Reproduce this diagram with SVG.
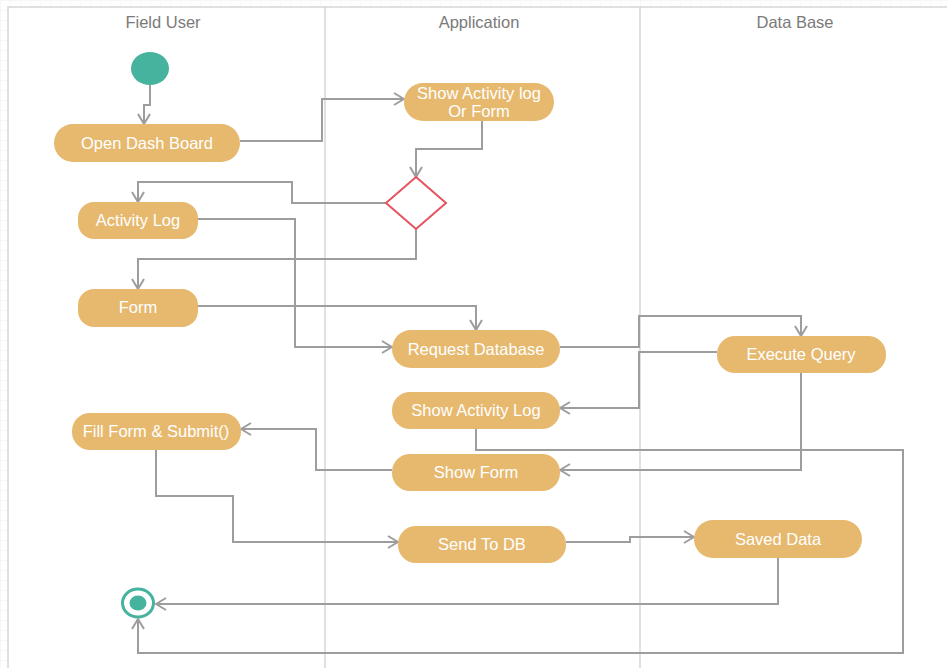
<svg xmlns="http://www.w3.org/2000/svg" width="947" height="668" viewBox="0 0 947 668">
  <style>
    .lane-title { font-family: "Liberation Sans", Arial, sans-serif; font-size: 16.5px; fill: #7a7a7a; text-anchor: middle; }
    .act rect { fill: #e6b96f; }
    .act text { font-family: "Liberation Sans", Arial, sans-serif; font-size: 16.5px; fill: #ffffff; text-anchor: middle; dominant-baseline: central; }
    .flow { fill: none; stroke: #9d9d9d; stroke-width: 2; marker-end: url(#arrow); }
    .lane { fill: none; stroke: #d6d6d6; stroke-width: 1.5; }
  </style>
  <defs>
    <pattern id="grid" width="10" height="10" patternUnits="userSpaceOnUse">
      <path d="M10 0 L0 0 L0 10" fill="none" stroke="#f0f0f0" stroke-width="1"/>
    </pattern>
    <marker id="arrow" viewBox="0 0 12 14" refX="11" refY="7" markerWidth="12" markerHeight="14" markerUnits="userSpaceOnUse" orient="auto">
      <path d="M1 1 L11 7 L1 13" fill="none" stroke="#9d9d9d" stroke-width="2"/>
    </marker>
  </defs>

  <!-- canvas -->
  <rect width="947" height="668" fill="#ffffff"/>
  <rect width="947" height="668" fill="url(#grid)"/>
  <rect x="8" y="7" width="945" height="670" fill="#ffffff"/>

  <!-- swimlanes -->
  <g id="lanes">
    <path class="lane" d="M8 670 L8 7 L947 7"/>
    <line class="lane" x1="325" y1="7" x2="325" y2="668"/>
    <line class="lane" x1="640" y1="7" x2="640" y2="668"/>
    <text class="lane-title" x="163" y="28">Field User</text>
    <text class="lane-title" x="479" y="28">Application</text>
    <text class="lane-title" x="795" y="28">Data Base</text>
  </g>

  <!-- connectors -->
  <g id="connectors">
    <path class="flow" d="M150 85 L150 105 L144 105 L144 124"/>
    <path class="flow" d="M240 141 L322 141 L322 99 L404 99"/>
    <path class="flow" d="M482 121 L482 149 L416 149 L416 177"/>
    <path class="flow" d="M386 203 L292 203 L292 182 L138 182 L138 202"/>
    <path class="flow" d="M416 229 L416 259 L138 259 L138 289"/>
    <path class="flow" d="M198 219 L295 219 L295 347 L392 347"/>
    <path class="flow" d="M198 306 L476 306 L476 330"/>
    <path class="flow" d="M560 347 L639 347 L639 316 L801 316 L801 336"/>
    <path class="flow" d="M717 352 L639 352 L639 408 L560 408"/>
    <path class="flow" d="M801 373 L801 470 L560 470"/>
    <path class="flow" d="M392 470 L316 470 L316 429 L241 429"/>
    <path class="flow" d="M156 450 L156 496 L233 496 L233 542 L398 542"/>
    <path class="flow" d="M566 542 L630 542 L630 537 L694 537"/>
    <path class="flow" d="M778 558 L778 604 L156 604"/>
    <path class="flow" d="M476 429 L476 450 L903 450 L903 653 L138 653 L138 619"/>
  </g>

  <!-- start -->
  <g id="start">
    <ellipse cx="150" cy="68.5" rx="19" ry="16.5" fill="#45b39d"/>
  </g>

  <g id="open-dash-board" class="act">
    <rect x="54" y="124" width="186" height="38" rx="19"/>
    <text x="147" y="143">Open Dash Board</text>
  </g>

  <g id="show-activity-or-form" class="act">
    <rect x="404" y="83" width="150" height="38" rx="19"/>
    <text x="479" y="93">Show Activity log</text>
    <text x="479" y="111">Or Form</text>
  </g>

  <g id="decision">
    <polygon points="416,177 446,203 416,229 386,203" fill="#ffffff" stroke="#e5535f" stroke-width="2"/>
  </g>

  <g id="activity-log" class="act">
    <rect x="78" y="202" width="120" height="37" rx="16"/>
    <text x="138" y="220">Activity Log</text>
  </g>

  <g id="form" class="act">
    <rect x="78" y="289" width="120" height="38" rx="16"/>
    <text x="138" y="307">Form</text>
  </g>

  <g id="request-database" class="act">
    <rect x="392" y="330" width="168" height="38" rx="19"/>
    <text x="476" y="349">Request Database</text>
  </g>

  <g id="execute-query" class="act">
    <rect x="717" y="336" width="169" height="37" rx="18"/>
    <text x="801" y="354">Execute Query</text>
  </g>

  <g id="show-activity-log" class="act">
    <rect x="392" y="392" width="168" height="37" rx="18"/>
    <text x="476" y="410">Show Activity Log</text>
  </g>

  <g id="fill-form-submit" class="act">
    <rect x="72" y="413" width="169" height="37" rx="18"/>
    <text x="156" y="431">Fill Form &amp; Submit()</text>
  </g>

  <g id="show-form" class="act">
    <rect x="392" y="454" width="168" height="37" rx="18"/>
    <text x="476" y="472">Show Form</text>
  </g>

  <g id="send-to-db" class="act">
    <rect x="398" y="526" width="168" height="37" rx="18"/>
    <text x="482" y="544">Send To DB</text>
  </g>

  <g id="saved-data" class="act">
    <rect x="694" y="520" width="168" height="38" rx="19"/>
    <text x="778" y="539">Saved Data</text>
  </g>

  <!-- end -->
  <g id="end">
    <ellipse cx="138" cy="603" rx="15.5" ry="14" fill="#ffffff" stroke="#45b39d" stroke-width="3"/>
    <ellipse cx="138" cy="603" rx="8.5" ry="7.5" fill="#45b39d"/>
  </g>
</svg>
